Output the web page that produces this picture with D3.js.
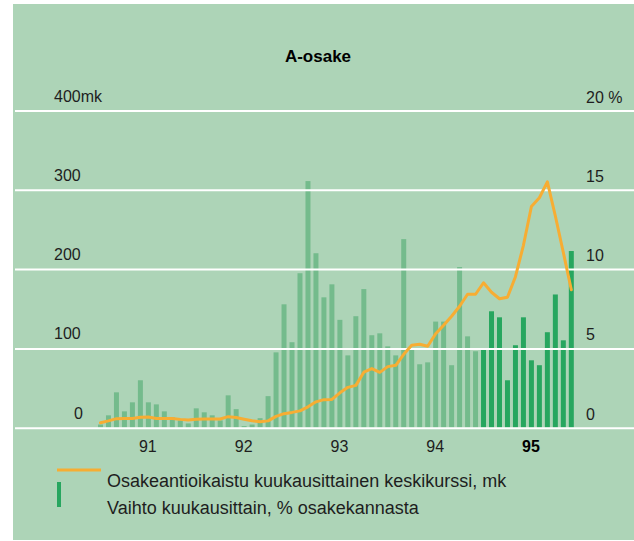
<!DOCTYPE html>
<html>
<head>
<meta charset="utf-8">
<script src="https://cdn.jsdelivr.net/npm/d3@7"></script>
<style>
  html, body { margin: 0; padding: 0; background: #ffffff; }
  svg { display: block; font-family: "Liberation Sans", Arial, Helvetica, sans-serif; }
</style>
</head>
<body>
<svg id="chart" width="634" height="541"></svg>
<script>
// ---- data ----
const title = "A-osake";
const years = ["91", "92", "93", "94", "95"];
const monthsPerYear = 12;
const leftTickValues = [0, 100, 200, 300, 400];
const leftTickLabels = ["0", "100", "200", "300", "400mk"];
const rightTickValues = [0, 5, 10, 15, 20];
const rightTickLabels = ["0", "5", "10", "15", "20 %"];
const legendLabels = [
  "Osakeantioikaistu kuukausittainen keskikurssi, mk",
  "Vaihto kuukausittain, % osakekannasta"
];
const highlightYear = "95";

// monthly turnover, % of share capital (Jan 1991 - Dec 1995)
const turnover = [
  0.2, 0.78, 2.23, 1.03, 1.6, 2.99, 1.6, 1.47, 1.03, 0.65, 0.46, 0.27,
  1.22, 0.97, 0.78, 0.46, 2.04, 1.17, 0.1, 0.2, 0.6, 1.99, 4.75, 7.78,
  5.39, 9.74, 15.55, 11.0, 8.22, 9.04, 6.8, 4.56, 7.03, 8.74, 5.83, 5.95,
  5.13, 4.56, 11.89, 5.0, 4.0, 4.12, 6.69, 6.69, 3.94, 10.13, 5.76, 4.82,
  5.0, 7.34, 6.96, 2.99, 5.2, 6.96, 4.25, 3.94, 6.02, 8.4, 5.51, 11.14
];
// monthly adjusted average price, mk
const price = [
  6.3, 8.6, 11.4, 11.7, 11.7, 13.3, 13.4, 11.7, 11.7, 11.7, 10.5, 9.8,
  10.7, 10.9, 10.9, 10.9, 13.9, 12.8, 10.7, 8.8, 7.6, 8.6, 14.3, 17.7,
  19.3, 21.2, 26.3, 32.6, 35.4, 35.7, 44.0, 50.9, 53.4, 70.0, 74.6, 69.8,
  77.0, 78.7, 92.5, 104.0, 105.2, 102.7, 118.4, 129.2, 140.5, 153.2, 168.3, 168.3,
  182.8, 170.8, 162.6, 164.5, 190.4, 230.0, 279.0, 290.0, 310.0, 267.0, 221.0, 174.0
];

// ---- build ----
const months = [];
years.forEach(y => { for (let m = 1; m <= monthsPerYear; m++) months.push(y + "-" + m); });
const rows = months.map((k, i) => ({ key: k, year: k.split("-")[0], turnover: turnover[i], price: price[i] }));

const svg = d3.select("#chart");
const W = 634, H = 541;

const colors = {
  bg: "#add4b7",
  grid: "#ffffff",
  bar: "#74bb8c",
  barHi: "#27a65f",
  line: "#f7ad33",
  text: "#1e1e1e"
};

svg.append("rect").attr("x", 13).attr("y", 4).attr("width", W - 13).attr("height", 536).attr("fill", colors.bg);

const x = d3.scaleBand().domain(months).range([96.5, 575.3]).paddingInner(0.375).paddingOuter(0.1875);
const yL = d3.scaleLinear().domain([0, 400]).range([427.7, 110.5]);
const yR = d3.scaleLinear().domain([0, 20]).range([427.7, 110.5]);

// title
svg.append("text").attr("x", 318).attr("y", 62).attr("text-anchor", "middle")
  .attr("font-size", 17).attr("font-weight", "bold").attr("fill", "#000").text(title);

// bars
svg.append("g").selectAll("rect").data(rows).join("rect")
  .attr("x", d => x(d.key))
  .attr("width", x.bandwidth())
  .attr("y", d => yR(d.turnover))
  .attr("height", d => yR(0) - yR(d.turnover))
  .attr("fill", d => d.year === highlightYear ? colors.barHi : colors.bar);

// gridlines (on top of bars)
const gridAxis = d3.axisLeft(yL).tickValues(leftTickValues).tickSize(-(W - 15)).tickFormat("");
const gg = svg.append("g").attr("transform", `translate(${W},0)`).call(gridAxis);
gg.select(".domain").remove();
gg.selectAll(".tick line").attr("stroke", colors.grid).attr("stroke-width", 2).attr("transform", "translate(0,0)");
gg.selectAll(".tick line").attr("x1", 0).attr("x2", -(W - 15));

// left labels
svg.append("g").selectAll("text").data(leftTickValues).join("text")
  .attr("x", (d, i) => d === 0 ? 74 : 54)
  .attr("y", d => yL(d) - 9)
  .attr("font-size", 16).attr("fill", colors.text)
  .text((d, i) => leftTickLabels[i]);

// right labels
svg.append("g").selectAll("text").data(rightTickValues).join("text")
  .attr("x", 586)
  .attr("y", d => yR(d) - 8)
  .attr("font-size", 16).attr("fill", colors.text)
  .text((d, i) => rightTickLabels[i]);

// year labels
svg.append("g").selectAll("text").data(years).join("text")
  .attr("x", y => x(y + "-7") + 2)
  .attr("y", 452)
  .attr("text-anchor", "middle")
  .attr("font-size", 16)
  .attr("font-weight", y => y === highlightYear ? "bold" : "normal")
  .attr("fill", y => y === highlightYear ? "#000" : colors.text)
  .text(y => y);

// price line
const line = d3.line()
  .x(d => x(d.key) + x.bandwidth() / 2)
  .y(d => yL(d.price));
svg.append("path").datum(rows)
  .attr("d", line)
  .attr("fill", "none")
  .attr("stroke", colors.line)
  .attr("stroke-width", 3)
  .attr("stroke-linejoin", "round")
  .attr("stroke-linecap", "round");

// legend
svg.append("line").attr("x1", 57).attr("x2", 101).attr("y1", 470).attr("y2", 470)
  .attr("stroke", colors.line).attr("stroke-width", 3);
svg.append("rect").attr("x", 57).attr("y", 482).attr("width", 4).attr("height", 25).attr("fill", colors.barHi);
svg.append("g").selectAll("text").data(legendLabels).join("text")
  .attr("x", 107)
  .attr("y", (d, i) => 487 + i * 27)
  .attr("font-size", 18).attr("fill", colors.text)
  .text(d => d);
</script>
</body>
</html>
